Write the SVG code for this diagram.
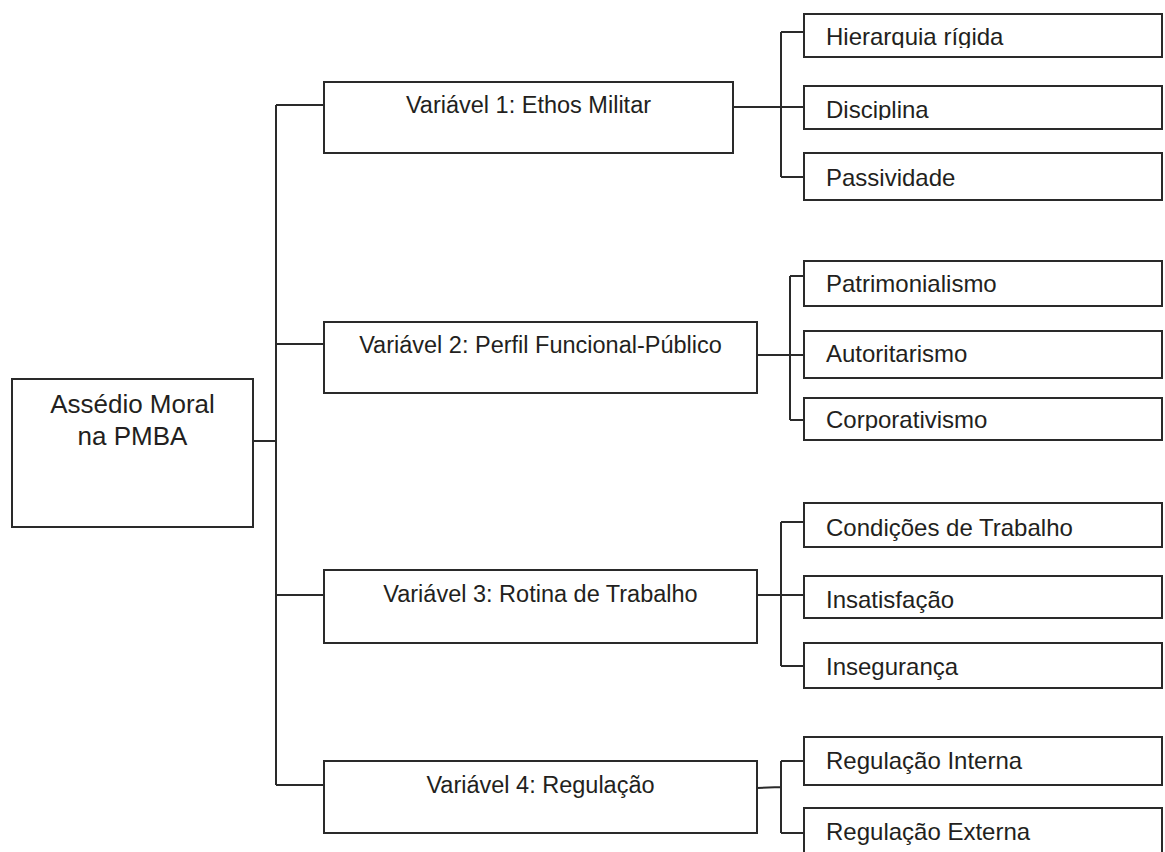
<svg xmlns="http://www.w3.org/2000/svg" width="1165" height="852" viewBox="0 0 1165 852">
<style>
.box{fill:#fff;stroke:#2a2a2a;stroke-width:2}
.ln{fill:none;stroke:#2a2a2a;stroke-width:2}
.t{font-family:"Liberation Sans",Arial,sans-serif;fill:#231f20}
.root{font-size:26px;text-anchor:middle}
.var{font-size:23.5px;text-anchor:middle}
.sub{font-size:24px}
</style>
<defs>
<clipPath id="c1"><rect x="805" y="14" width="357" height="34"/></clipPath>
<clipPath id="c2"><rect x="805" y="86" width="357" height="34"/></clipPath>
<clipPath id="c3"><rect x="805" y="398" width="357" height="33"/></clipPath>
</defs>
<rect width="1165" height="852" fill="#fff"/>
<g id="connectors">
<path class="ln" d="M253 441H276M276 105V785M276 105H324M276 344H324M276 595H324M276 785H324"/>
<path class="ln" d="M733 107H781M781 32V177M781 32H804M781 107H804M781 177H804"/>
<path class="ln" d="M757 355H790M790 276V420M790 276H804M790 355H804M790 420H804"/>
<path class="ln" d="M757 595H781M781 522V666M781 522H804M781 595H804M781 666H804"/>
<path class="ln" d="M757 788L781 787M781 761V833M781 761H804M781 833H804"/>
</g>
<g id="root">
<rect class="box" x="12" y="379" width="241" height="148"/>
<text class="t root" x="132.5" y="413">Assédio Moral</text>
<text class="t root" x="132.5" y="445">na PMBA</text>
</g>
<g id="var1">
<rect class="box" x="324" y="82" width="409" height="71"/>
<text class="t var" x="528.5" y="113">Variável 1: Ethos Militar</text>
</g>
<g id="var2">
<rect class="box" x="324" y="322" width="433" height="71"/>
<text class="t var" x="540.5" y="353">Variável 2: Perfil Funcional-Público</text>
</g>
<g id="var3">
<rect class="box" x="324" y="570" width="433" height="73"/>
<text class="t var" x="540.5" y="602">Variável 3: Rotina de Trabalho</text>
</g>
<g id="var4">
<rect class="box" x="324" y="761" width="433" height="72"/>
<text class="t var" x="540.5" y="793">Variável 4: Regulação</text>
</g>
<g id="hierarquia">
<rect class="box" x="804" y="14" width="358" height="43"/>
<text class="t sub" x="826" y="45" clip-path="url(#c1)">Hierarquia rígida</text>
</g>
<g id="disciplina">
<rect class="box" x="804" y="86" width="358" height="43"/>
<text class="t sub" x="826" y="118" clip-path="url(#c2)">Disciplina</text>
</g>
<g id="passividade">
<rect class="box" x="804" y="153" width="358" height="47"/>
<text class="t sub" x="826" y="186">Passividade</text>
</g>
<g id="patrimonialismo">
<rect class="box" x="804" y="261" width="358" height="45"/>
<text class="t sub" x="826" y="292">Patrimonialismo</text>
</g>
<g id="autoritarismo">
<rect class="box" x="804" y="331" width="358" height="47"/>
<text class="t sub" x="826" y="362">Autoritarismo</text>
</g>
<g id="corporativismo">
<rect class="box" x="804" y="398" width="358" height="42"/>
<text class="t sub" x="826" y="428" clip-path="url(#c3)">Corporativismo</text>
</g>
<g id="condicoes">
<rect class="box" x="804" y="503" width="358" height="44"/>
<text class="t sub" x="826" y="536">Condições de Trabalho</text>
</g>
<g id="insatisfacao">
<rect class="box" x="804" y="576" width="358" height="42"/>
<text class="t sub" x="826" y="608">Insatisfação</text>
</g>
<g id="inseguranca">
<rect class="box" x="804" y="643" width="358" height="45"/>
<text class="t sub" x="826" y="675">Insegurança</text>
</g>
<g id="reg-interna">
<rect class="box" x="804" y="737" width="358" height="48"/>
<text class="t sub" x="826" y="769">Regulação Interna</text>
</g>
<g id="reg-externa">
<rect class="box" x="804" y="808" width="358" height="60"/>
<text class="t sub" x="826" y="840">Regulação Externa</text>
</g>
</svg>
